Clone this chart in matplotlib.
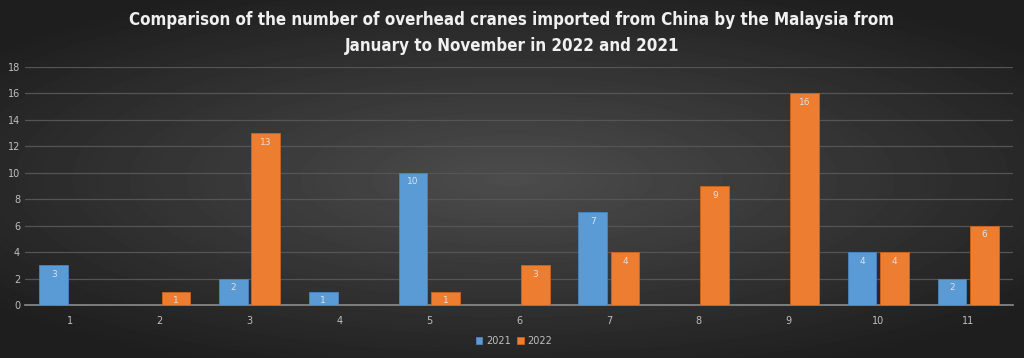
import numpy as np
import matplotlib.pyplot as plt

months = ['1', '2', '3', '4', '5', '6', '7', '8', '9', '10', '11']
cranes_2021 = [3, 0, 2, 1, 10, 0, 7, 0, 0, 4, 2]
cranes_2022 = [0, 1, 13, 0, 1, 3, 4, 9, 16, 4, 6]
title = ("Comparison of the number of overhead cranes imported from China by the Malaysia from\n"
         "January to November in 2022 and 2021")

fig = plt.figure(figsize=(10.24, 3.58), dpi=100)

# radial dark background
bg = fig.add_axes([0, 0, 1, 1], zorder=-10)
yy, xx = np.mgrid[-1:1:358j, -1:1:1024j]
r = np.sqrt((xx / 1.0) ** 2 + (yy / 0.9) ** 2)
bg.imshow(0.30 - 0.14 * np.clip(r, 0, 1.3), cmap='gray', vmin=0, vmax=1,
          aspect='auto', extent=[0, 1, 0, 1])
bg.axis('off')

ax = fig.add_axes([25 / 1024, 53 / 358, 988 / 1024, 238 / 358])
ax.patch.set_alpha(0)

x = np.arange(len(months))
w = 0.32
b1 = ax.bar(x - 0.18, cranes_2021, w, color='#5b9bd5', edgecolor='#4a85bd', linewidth=0.6, label='2021', zorder=3)
b2 = ax.bar(x + 0.18, cranes_2022, w, color='#ed7d31', edgecolor='#c9651f', linewidth=0.6, label='2022', zorder=3)

for bars, vals in ((b1, cranes_2021), (b2, cranes_2022)):
    for rect, v in zip(bars, vals):
        if v > 0:
            ax.text(rect.get_x() + rect.get_width() / 2, v - 0.35, str(v),
                    ha='center', va='top', color='#e0e0e0', fontsize=6.5, zorder=4)

ax.set_xlim(-0.5, len(months) - 0.5)
ax.set_ylim(0, 18)
ax.set_yticks(range(0, 19, 2))
ax.set_xticks(x)
ax.set_xticklabels(months)
ax.tick_params(colors='#bfbfbf', labelsize=7, length=0)
ax.tick_params(axis='x', pad=8)
ax.yaxis.grid(True, color='#555555', linewidth=0.9, zorder=0)
for s in ['top', 'right', 'left']:
    ax.spines[s].set_visible(False)
ax.spines['bottom'].set_color('#8c8c8c')
ax.spines['bottom'].set_linewidth(1.2)
ax.set_axisbelow(True)

leg = fig.legend(loc='center', bbox_to_anchor=(0.502, 0.048), ncol=2, frameon=False,
                 fontsize=7, handlelength=0.7, handleheight=0.7, handletextpad=0.4,
                 columnspacing=0.6, labelcolor='#bfbfbf')

fig.text(0.5, 0.907, title, ha='center', va='center', color='#f0f0f0',
         fontsize=12.2, fontweight='bold', fontstretch='condensed',
         family=['DejaVu Sans Condensed', 'DejaVu Sans'],
         linespacing=1.55)

fig.savefig('out.png', dpi=100)
